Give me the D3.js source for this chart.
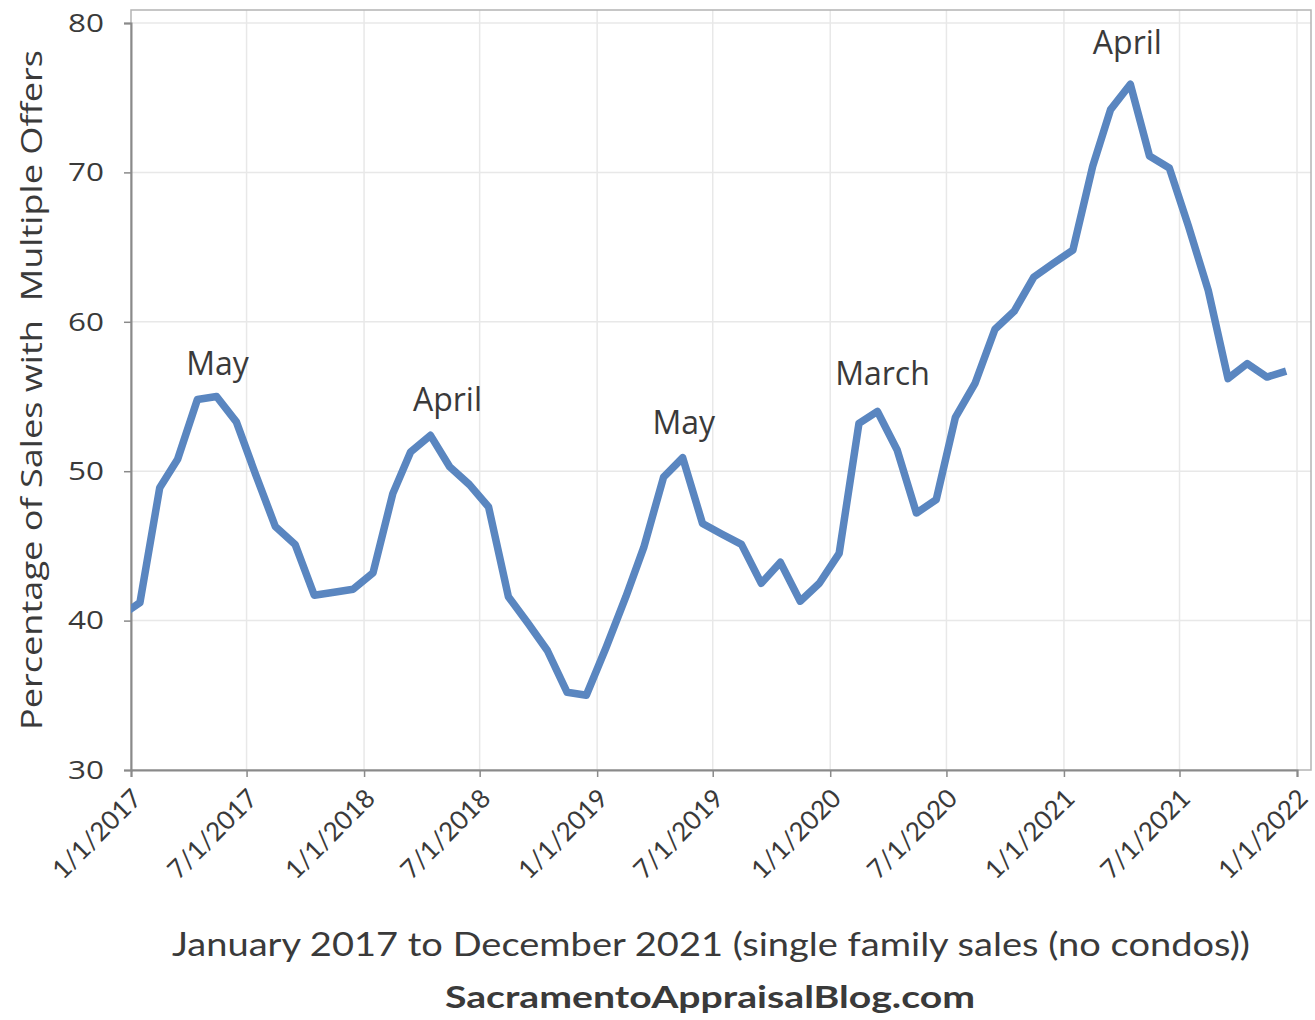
<!DOCTYPE html>
<html>
<head>
<meta charset="utf-8">
<script src="https://cdn.jsdelivr.net/npm/d3@7"></script>
<style>
  body { margin: 0; background: #fff; }
  text { font-family: "Open Sans", "DejaVu Sans", sans-serif; fill: #3a3a3a; }
</style>
</head>
<body>
<div id="chart"></div>
<script>
// monthly share of sales with multiple offers, Dec 2016 .. Dec 2021
const firstMonth = "2016-12";
const values = [
  40.3,
  41.2, 48.9, 50.8, 54.8, 55.0, 53.3, 49.8, 46.3, 45.1, 41.7, 41.9, 42.1,
  43.2, 48.5, 51.3, 52.4, 50.3, 49.1, 47.6, 41.6, 39.8, 38.0, 35.2, 35.0,
  38.2, 41.6, 44.9, 49.6, 50.9, 46.5, 45.8, 45.1, 42.5, 43.9, 41.3, 42.5,
  44.5, 53.2, 54.0, 51.4, 47.2, 48.1, 53.6, 55.9, 59.5, 60.7, 63.0, 63.9,
  64.8, 70.4, 74.2, 75.9, 71.1, 70.3, 66.4, 62.1, 56.2, 57.2, 56.3, 56.7
];
const yTicks = [30, 40, 50, 60, 70, 80];
const xTickLabels = ["1/1/2017", "7/1/2017", "1/1/2018", "7/1/2018", "1/1/2019", "7/1/2019",
  "1/1/2020", "7/1/2020", "1/1/2021", "7/1/2021", "1/1/2022"];
const peakLabels = ["May", "April", "May", "March", "April"];
const peakMonths = ["2017-05", "2018-04", "2019-05", "2020-03", "2021-04"];
const yTitle = "Percentage of Sales with  Multiple Offers";
const xTitle = "January 2017 to December 2021 (single family sales (no condos))";
const siteName = "SacramentoAppraisalBlog.com";

const W = 1315, H = 1020;
const plotL = 131, plotR = 1297, frameR = 1311, plotT = 23, frameT = 10, plotB = 770;

const parseMonth = d3.timeParse("%Y-%m");
const parseTick = d3.timeParse("%m/%d/%Y");
const start = parseMonth(firstMonth);
// points sit in the middle of each month
const data = values.map((v, i) => ({
  date: d3.timeDay.offset(d3.timeMonth.offset(start, i), 14),
  value: v
}));

const svg = d3.select("#chart").append("svg").attr("width", W).attr("height", H);

const x = d3.scaleTime()
  .domain([parseTick("1/1/2017"), parseTick("1/1/2022")])
  .range([plotL, plotR]);
const y = d3.scaleLinear().domain([30, 80]).range([plotB, plotT]);

const tickDates = xTickLabels.map(parseTick);

// grid
svg.append("g").selectAll("line").data(yTicks.slice(1)).join("line")
  .attr("x1", plotL).attr("x2", frameR)
  .attr("y1", d => y(d)).attr("y2", d => y(d))
  .attr("stroke", "#e8e8e8").attr("stroke-width", 1.5);
svg.append("g").selectAll("line").data(tickDates.slice(1)).join("line")
  .attr("x1", d => x(d)).attr("x2", d => x(d))
  .attr("y1", frameT).attr("y2", plotB)
  .attr("stroke", "#e8e8e8").attr("stroke-width", 1.5);

// frame
svg.append("rect")
  .attr("x", plotL).attr("y", frameT)
  .attr("width", frameR - plotL).attr("height", plotB - frameT)
  .attr("fill", "none").attr("stroke", "#b4b4b4").attr("stroke-width", 1.5);

// axes
const yAxis = svg.append("g")
  .attr("transform", `translate(${plotL},0)`)
  .call(d3.axisLeft(y).tickValues(yTicks).tickSize(7).tickPadding(20));
yAxis.selectAll("text")
  .style("font-size", "26px")
  .attr("fill", "#3a3a3a")
  .attr("textLength", 36)
  .attr("lengthAdjust", "spacingAndGlyphs");

const xAxis = svg.append("g")
  .attr("transform", `translate(0,${plotB})`)
  .call(d3.axisBottom(x).tickValues(tickDates).tickSize(7)
    .tickFormat((d, i) => xTickLabels[i]));
xAxis.selectAll("text")
  .style("font-family", "Lato, sans-serif")
  .style("font-size", "26px")
  .attr("text-anchor", "end")
  .attr("dy", null).attr("y", 0)
  .attr("transform", "translate(12,30) rotate(-45)");

svg.selectAll(".domain").attr("stroke", "#8a8a8a").attr("stroke-width", 2);
svg.selectAll(".tick line").attr("stroke", "#8a8a8a").attr("stroke-width", 1.5);

// line, clipped to plot area
svg.append("clipPath").attr("id", "plot-clip").append("rect")
  .attr("x", plotL).attr("y", frameT)
  .attr("width", frameR - plotL).attr("height", plotB - frameT);

const line = d3.line().x(d => x(d.date)).y(d => y(d.value));
svg.append("path")
  .datum(data)
  .attr("clip-path", "url(#plot-clip)")
  .attr("d", line)
  .attr("fill", "none")
  .attr("stroke", "#5a86c0")
  .attr("stroke-width", 7.5)
  .attr("stroke-linejoin", "round");

// peak labels
const nudge = [1, 17, 1, 5, -3];
const lift = [22, 24, 24, 26, 30];
peakMonths.forEach((m, i) => {
  const p = data.find(d => d3.timeFormat("%Y-%m")(d.date) === m);
  svg.append("text")
    .attr("x", x(p.date) + nudge[i])
    .attr("y", y(p.value) - lift[i])
    .attr("text-anchor", "middle")
    .style("font-size", "32px")
    .text(peakLabels[i]);
});

// titles
svg.append("text")
  .attr("transform", `translate(42,390) rotate(-90)`)
  .attr("text-anchor", "middle")
  .style("font-size", "30px")
  .style("white-space", "pre")
  .attr("textLength", 680)
  .attr("lengthAdjust", "spacingAndGlyphs")
  .text(yTitle);

svg.append("text")
  .attr("x", 711).attr("y", 956)
  .attr("text-anchor", "middle")
  .style("font-family", "Lato, sans-serif")
  .style("font-size", "32px")
  .style("white-space", "pre")
  .attr("textLength", 1078)
  .attr("lengthAdjust", "spacingAndGlyphs")
  .text(xTitle);

svg.append("text")
  .attr("x", 710).attr("y", 1008)
  .attr("text-anchor", "middle")
  .style("font-family", "Lato, sans-serif")
  .style("font-weight", "bold")
  .style("font-size", "31px")
  .attr("textLength", 530)
  .attr("lengthAdjust", "spacingAndGlyphs")
  .text(siteName);
</script>
</body>
</html>
